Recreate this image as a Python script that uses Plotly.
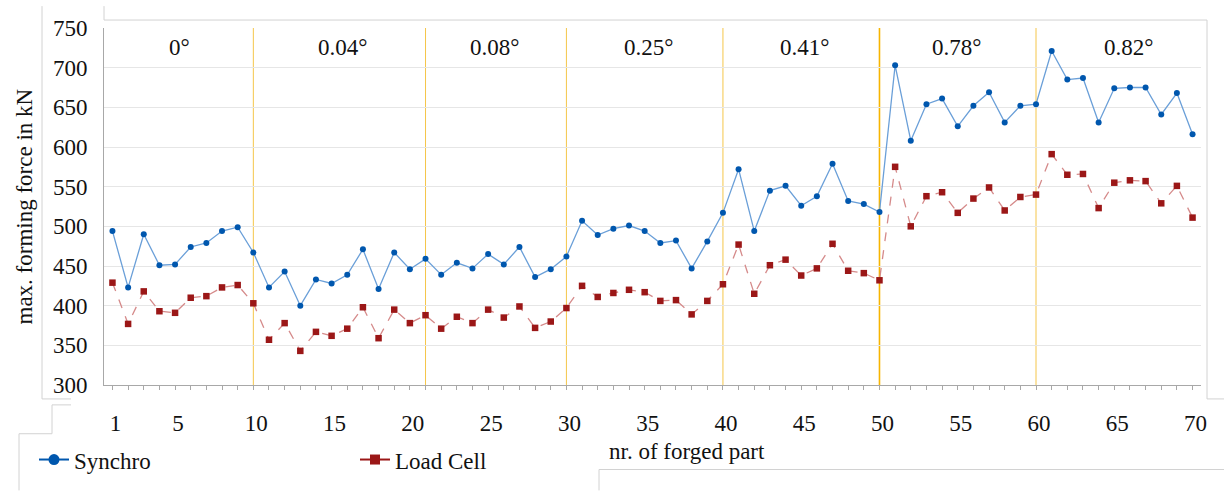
import plotly.graph_objects as go

# ---------------- data ----------------
parts = list(range(1, 71))

synchro = [494, 423, 490, 451, 452, 474, 479, 494, 499, 467,
           423, 443, 400, 433, 428, 439, 471, 421, 467, 446,
           459, 439, 454, 447, 465, 452, 474, 436, 446, 462,
           507, 489, 497, 501, 494, 479, 482, 447, 481, 517,
           572, 494, 545, 551, 526, 538, 579, 532, 528, 518,
           703, 608, 654, 661, 626, 652, 669, 631, 652, 654,
           721, 685, 687, 631, 674, 675, 675, 641, 668, 616]

load_cell = [429, 377, 418, 393, 391, 410, 412, 423, 426, 403,
             357, 378, 343, 367, 362, 371, 398, 359, 395, 378,
             388, 371, 386, 378, 395, 385, 399, 372, 380, 397,
             425, 411, 416, 420, 417, 406, 407, 389, 406, 427,
             477, 415, 451, 458, 438, 447, 478, 444, 441, 432,
             575, 500, 538, 543, 517, 535, 549, 520, 537, 540,
             591, 565, 566, 523, 555, 558, 557, 529, 551, 511]

boundaries = [10, 21, 30, 40, 50, 60]
angle_labels = ["0°", "0.04°", "0.08°", "0.25°", "0.41°", "0.78°", "0.82°"]
angle_label_pos = [5.3, 15.7, 25.4, 35.25, 45.2, 54.95, 65.9]

xtick_labels = [1, 5, 10, 15, 20, 25, 30, 35, 40, 45, 50, 55, 60, 65, 70]
ytick_vals = [300, 350, 400, 450, 500, 550, 600, 650, 700, 750]

# ---------------- figure ----------------
FONT = "Liberation Serif"
W, H = 1224, 493
ML, MR, MT, MB = 104, 23, 28, 106
PW, PH = W - ML - MR, H - MT - MB

def px_x(px):
    return (px - ML) / PW

def px_y(py):
    return (H - MB - py) / PH

fig = go.Figure()

fig.add_trace(go.Scatter(
    x=parts, y=synchro, mode="lines+markers", name="Synchro",
    line=dict(color="#6A9FD8", width=1.3),
    marker=dict(color="#0057AE", size=6, symbol="circle"),
    showlegend=False,
))
fig.add_trace(go.Scatter(
    x=parts, y=load_cell, mode="lines+markers", name="Load Cell",
    line=dict(color="#D58A8A", width=1.3, dash="dash"),
    marker=dict(color="#9B1717", size=6.5, symbol="square"),
    showlegend=False,
))
# legend entries
fig.add_trace(go.Scatter(
    x=[None], y=[None], mode="lines+markers", name="Synchro",
    line=dict(color="#0057AE", width=2),
    marker=dict(color="#0057AE", size=11, symbol="circle"),
))
fig.add_trace(go.Scatter(
    x=[None], y=[None], mode="lines+markers", name="Load Cell",
    line=dict(color="#9B1717", width=2),
    marker=dict(color="#9B1717", size=10, symbol="square"),
))

shapes = []
for b in boundaries:
    shapes.append(dict(
        type="line", xref="x", yref="paper", x0=b, x1=b, y0=0, y1=1,
        line=dict(color="#F7B500" if b == 50 else "#F5C64A",
                  width=1.6 if b == 50 else 1),
        layer="below",
    ))

# decorative frame lines of the original figure
deco = "#d2d2d2"
segs = [
    ((42, 6), (42, 401)), ((42, 401), (71, 401)),
    ((104, 6), (104, 20)), ((104, 20), (1207, 20)),
    ((1207, 20), (1207, 401)), ((1207, 401), (1224, 401)),
    ((52, 407), (71, 407)), ((52, 407), (52, 436)),
    ((19, 436), (52, 436)), ((19, 436), (19, 493)),
    ((599, 472), (1224, 472)), ((599, 472), (599, 493)),
]
for (ax, ay), (bx, by) in segs:
    shapes.append(dict(
        type="line", xref="paper", yref="paper",
        x0=px_x(ax), x1=px_x(bx), y0=px_y(ay), y1=px_y(by),
        line=dict(color=deco, width=1),
    ))

annotations = []
for lab, pos in zip(angle_labels, angle_label_pos):
    annotations.append(dict(
        x=pos, y=px_y(48), xref="x", yref="paper", text=lab,
        showarrow=False, font=dict(family=FONT, size=23, color="#111"),
        xanchor="center", yanchor="middle",
    ))
annotations.append(dict(
    x=px_x(24), y=0.5, xref="paper", yref="paper",
    text="max. forming force in kN", textangle=-90, showarrow=False,
    font=dict(family=FONT, size=23, color="#111"),
    xanchor="center", yanchor="middle",
))
annotations.append(dict(
    x=px_x(687), y=px_y(454), xref="paper", yref="paper",
    text="nr. of forged part", showarrow=False,
    font=dict(family=FONT, size=23, color="#111"),
    xanchor="center", yanchor="middle",
))

ticktext = [str(p) if p in xtick_labels else "" for p in parts]

fig.update_layout(
    width=W, height=H,
    margin=dict(l=ML, r=MR, t=MT, b=MB, pad=0),
    paper_bgcolor="white", plot_bgcolor="white",
    font=dict(family=FONT, size=23, color="#111"),
    shapes=shapes, annotations=annotations,
    legend=dict(
        orientation="h", x=px_x(34), y=px_y(462), xanchor="left", yanchor="middle",
        entrywidth=276, entrywidthmode="pixels",
        font=dict(family=FONT, size=23, color="#111"),
        bgcolor="rgba(0,0,0,0)",
    ),
    xaxis=dict(
        range=[0.46, 70.54], tickmode="array", tickvals=parts, ticktext=ticktext,
        ticks="outside", ticklen=4, tickcolor="#a8a8a8", tickwidth=1,
        showline=True, linecolor="#a8a8a8", linewidth=1,
        showgrid=False, zeroline=False, ticklabelstandoff=13, ticklabelshift=3,
        tickfont=dict(family=FONT, size=23, color="#111"),
    ),
    yaxis=dict(
        range=[300, 750], tickmode="array", tickvals=ytick_vals,
        showline=True, linecolor="#a8a8a8", linewidth=1,
        showgrid=True, gridcolor="#e6e6e6", gridwidth=1, zeroline=False,
        ticks="", ticklabelstandoff=11,
        tickfont=dict(family=FONT, size=23, color="#111"),
    ),
)

fig.write_html("out.html")
